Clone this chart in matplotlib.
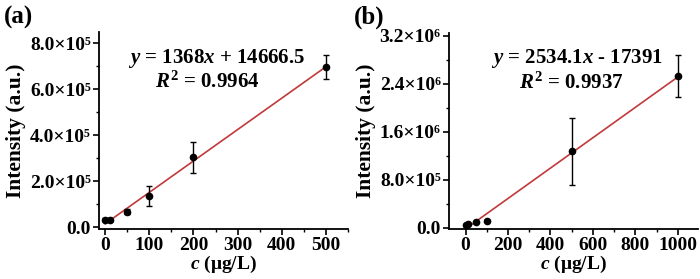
import numpy as np
import matplotlib
matplotlib.use("Agg")
import matplotlib.pyplot as plt
from matplotlib.ticker import MultipleLocator

plt.rcParams['font.family'] = ['Liberation Serif', 'DejaVu Serif']
plt.rcParams['font.weight'] = 'bold'
plt.rcParams['mathtext.fontset'] = 'custom'
plt.rcParams['mathtext.default'] = 'regular'
plt.rcParams['mathtext.rm'] = 'Liberation Serif:bold'
plt.rcParams['mathtext.bf'] = 'Liberation Serif:bold'
plt.rcParams['mathtext.it'] = 'Liberation Serif:italic:bold'

# datos del panel (a)
conc_a = [0, 10, 50, 100, 200, 500]
inten_a = [33000, 30000, 68000, 137000, 305000, 697000]
err_a = [5000, 4000, 9000, 44000, 67000, 53000]
pend_a, corte_a = 1368, 14666.5

# datos del panel (b)
conc_b = [0, 10, 50, 100, 500, 1000]
inten_b = [50000, 70000, 90000, 120000, 1280000, 2530000]
err_b = [10000, 10000, 15000, 15000, 560000, 350000]
pend_b, corte_b = 2534.1, -17391

ticks_ya = [0, 2e5, 4e5, 6e5, 8e5]
labels_ya = ['0.0', '2.0×10⁵', '4.0×10⁵', '6.0×10⁵', '8.0×10⁵']
ticks_yb = [0, 0.8e6, 1.6e6, 2.4e6, 3.2e6]
labels_yb = ['0.0', '8.0×10⁵', '1.6×10⁶', '2.4×10⁶', '3.2×10⁶']

fig = plt.figure(figsize=(7, 2.79), dpi=100)
ax1 = fig.add_axes([99/700, 1-229/279, 249/700, 197/279])
ax2 = fig.add_axes([449/700, 1-229/279, 249/700, 196/279])


def panel(ax, x, y, e, m, b, xlim, ylim, yt, yl, xmaj, xmin, ymin, ecuacion, r2, tx1, tx2):
    ax.errorbar(x, y, yerr=e, fmt='o', color='black', ms=4.5, capsize=2.5,
                elinewidth=1, capthick=1, zorder=3)
    xx = np.array([0, max(x)])
    ax.plot(xx, m*xx + b, color='#c0393b', lw=1.2, zorder=2)
    ax.set_xlim(*xlim)
    ax.set_ylim(*ylim)
    ax.set_yticks(yt)
    ax.set_yticklabels(yl, fontsize=14, fontweight='bold')
    ax.xaxis.set_major_locator(MultipleLocator(xmaj))
    ax.xaxis.set_minor_locator(MultipleLocator(xmin))
    ax.yaxis.set_minor_locator(MultipleLocator(ymin))
    for s in ['top', 'right']:
        ax.spines[s].set_visible(False)
    for s in ['left', 'bottom']:
        ax.spines[s].set_linewidth(1.3)
    ax.tick_params(which='major', direction='out', length=4, width=1.2, labelsize=14, pad=2)
    ax.tick_params(which='minor', direction='out', length=2.5, width=1)
    ax.set_xlabel(r'$\mathit{c}$ (μg/L)', fontsize=14, fontweight='bold', labelpad=0)
    ax.set_ylabel('Intensity (a.u.)', fontsize=15.5, fontweight='bold', labelpad=3)
    ax.text(tx1, 0.868, ecuacion, transform=ax.transAxes, ha='center', va='center', fontsize=15)
    ax.text(tx2, 0.746, r2, transform=ax.transAxes, ha='center', va='center', fontsize=15)


panel(ax1, conc_a, inten_a, err_a, pend_a, corte_a, (-14, 550), (-8000, 8.5e5),
      ticks_ya, labels_ya, 100, 50, 1e5,
      r'$\mathit{y}$ = 1368$\mathit{x}$ + 14666.5', r'$\mathit{R}^2$ = 0.9964', 0.474, 0.434)
panel(ax2, conc_b, inten_b, err_b, pend_b, corte_b, (-78, 1095), (-2e4, 3.25e6),
      ticks_yb, labels_yb, 200, 100, 4e5,
      r'$\mathit{y}$ = 2534.1$\mathit{x}$ - 17391', r'$\mathit{R}^2$ = 0.9937', 0.514, 0.49)

fig.text(4/700, 1-17/279, '(a)', fontsize=18, fontweight='bold', va='center')
fig.text(354/700, 1-17/279, '(b)', fontsize=18, fontweight='bold', va='center')

fig.savefig('out.png', dpi=100)
